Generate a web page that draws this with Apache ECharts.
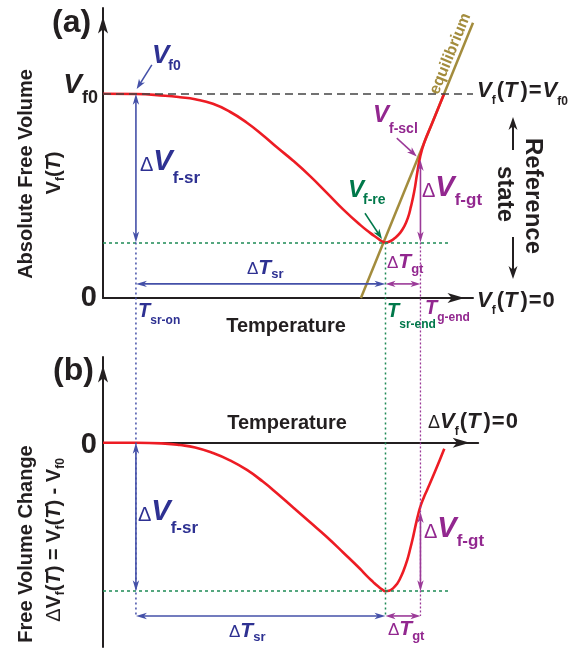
<!DOCTYPE html>
<html><head><meta charset="utf-8">
<script src="https://cdn.jsdelivr.net/npm/echarts@6/dist/echarts.min.js"></script>
<style>html,body{margin:0;padding:0;background:#fff}#c{width:569px;height:649px}</style>
</head><body><div id="c"></div>
<script>
// ================= DATA =================
// characteristic temperatures (arbitrary temperature units)
const T_SR_ON = 8.9;
const T_SR_END = 76.35;
const T_G_END = 85.8;
// characteristic free volumes (relative to V_f0 = 1)
const V_F0 = 1.0;
const V_F_RE = 0.272;
const V_F_SCL = 0.676;
const DV_F_RE = -0.727;
const DV_F_SCL = -0.339;

// (a) absolute free volume curve
const tempA = [0, 8.9, 16.8, 20.8, 24.9, 29.7, 34.3, 38.9, 43.2, 47.0, 51.4, 55.9, 60.5, 64.9, 69.5, 72.2, 74.1, 75.1, 76.35, 77.6, 78.9, 80.3, 81.4, 82.4, 83.2, 84.1, 84.9, 85.7, 86.8, 88.9, 92.2];
const volA  = [1.000, 0.999, 0.990, 0.983, 0.973, 0.951, 0.912, 0.858, 0.797, 0.738, 0.672, 0.598, 0.515, 0.434, 0.358, 0.319, 0.294, 0.281, 0.272, 0.278, 0.294, 0.319, 0.350, 0.392, 0.446, 0.520, 0.610, 0.690, 0.760, 0.853, 1.000];

// equilibrium line
const equilTemp = [69.7, 100];
const equilVol  = [0, 1.348];

// (b) free volume change curve
const tempB = [0, 8.9, 16.8, 20.8, 24.9, 29.7, 34.3, 38.9, 43.2, 47.0, 51.4, 55.9, 60.5, 64.9, 69.46, 71.35, 72.97, 74.32, 75.41, 76.35, 77.3, 78.38, 79.46, 80.27, 81.22, 82.16, 82.97, 83.86, 84.59, 85.27, 85.95, 86.76, 87.57, 89.73, 92.24];
const dvolB = [0, 0, -0.004, -0.011, -0.023, -0.050, -0.086, -0.133, -0.190, -0.247, -0.317, -0.388, -0.461, -0.537, -0.617, -0.653, -0.681, -0.703, -0.718, -0.727, -0.725, -0.713, -0.691, -0.666, -0.627, -0.578, -0.524, -0.457, -0.396, -0.345, -0.303, -0.265, -0.232, -0.141, -0.029];

// ================= LAYOUT / STYLE =================
const ARROW_DT_A = 0.069;   // level of the ΔT arrows in (a)
const ARROW_DT_B = -0.848;  // level of the ΔT arrows in (b)
const GREEN_END = 93.8;     // right end of green dotted guide lines
const PTR_F0  = [[13.2, 1.142], [9.1, 1.023]];
const PTR_RE  = [[70.8, 0.415], [75.4, 0.289]];
const PTR_SCL = [[79.4, 0.783], [84.8, 0.693]];

const BLACK='#231f20', BLUE='#2e3192', BLUE_L='#4450a8', PURPLE='#92278f', PURPLE_L='#9b3a98',
      GREEN='#00784a', GREEN_L='#1e8a55', RED='#ed1c24', OLIVE='#a38c3d';
const FONT = '"Liberation Sans", Arial, Helvetica, sans-serif';

const chart = echarts.init(document.getElementById('c'));

function xAx(gi, max){ return {gridIndex:gi, type:'value', min:0, max:max,
  axisLine:{onZero:true, symbol:['none','arrow'], symbolSize:[7.5,17], symbolOffset:[0,-8.5], lineStyle:{color:BLACK,width:2}},
  axisTick:{show:false}, axisLabel:{show:false}, splitLine:{show:false}}; }
function yAx(gi, min, max){ return {gridIndex:gi, type:'value', min:min, max:max,
  axisLine:{onZero:true, symbol:['none','arrow'], symbolSize:[7.5,17], symbolOffset:[0,-8.5], lineStyle:{color:BLACK,width:2}},
  axisTick:{show:false}, axisLabel:{show:false}, splitLine:{show:false}}; }

function hline(x1, x2, y, color, dash, w){
  return [{coord:[x1,y], symbol:'none', lineStyle:{color:color, type:dash, width:w}}, {coord:[x2,y], symbol:'none'}];
}

chart.setOption({
  animation:false,
  grid:[
    {left:103, top:8, width:370, height:290},
    {left:103, top:357, width:375.18, height:290}
  ],
  xAxis:[xAx(0,100), xAx(1,101.4)],
  yAxis:[yAx(0,0,1.42), yAx(1,-1.0,0.42)],
  series:[
    {type:'line', xAxisIndex:0, yAxisIndex:0, data:[], silent:true,
     markLine:{silent:true, symbol:'none', label:{show:false}, emphasis:{disabled:true}, animation:false,
       data:[ hline(0,100,V_F0,'#444',[8,5],1.5), hline(0,GREEN_END,V_F_RE,GREEN_L,[3,3],1.5) ]}},
    {type:'line', xAxisIndex:1, yAxisIndex:1, data:[], silent:true,
     markLine:{silent:true, symbol:'none', label:{show:false}, emphasis:{disabled:true}, animation:false,
       data:[ hline(0,GREEN_END,DV_F_RE,GREEN_L,[3,3],1.5) ]}},
    {type:'line', xAxisIndex:0, yAxisIndex:0, data:equilTemp.map((t,i)=>[t,equilVol[i]]),
     symbol:'none', lineStyle:{color:OLIVE,width:2.5}, silent:true, z:3},
    {type:'line', xAxisIndex:0, yAxisIndex:0, data:tempA.map((t,i)=>[t,volA[i]]),
     symbol:'none', smooth:0.5, lineStyle:{color:RED,width:2.6}, silent:true, z:4},
    {type:'line', xAxisIndex:1, yAxisIndex:1, data:tempB.map((t,i)=>[t,dvolB[i]]),
     symbol:'none', smooth:0.5, lineStyle:{color:RED,width:2.6}, silent:true, z:4}
  ]
});

const pa = (t,v) => chart.convertToPixel({gridIndex:0},[t,v]);
const pb = (t,v) => chart.convertToPixel({gridIndex:1},[t,v]);

const els = [];
function seg(p1,p2,color,w,dash){ els.push({type:'line', silent:true, z:5, shape:{x1:p1[0],y1:p1[1],x2:p2[0],y2:p2[1]}, style:{stroke:color,lineWidth:w,lineDash:dash||null}}); }
function head(tip, ux, uy, L, W, color){
  const nx=-uy, ny=ux;
  const bx=tip[0]-ux*L, by=tip[1]-uy*L;
  const mx=tip[0]-ux*L*0.72, my=tip[1]-uy*L*0.72;
  els.push({type:'polygon', silent:true, z:6, shape:{points:[[tip[0],tip[1]],[bx+nx*W,by+ny*W],[mx,my],[bx-nx*W,by-ny*W]]}, style:{fill:color}});
}
function arrow(p1,p2,color,w,both,L,W){
  const dx=p2[0]-p1[0], dy=p2[1]-p1[1], len=Math.hypot(dx,dy), ux=dx/len, uy=dy/len;
  const a = both ? [p1[0]+ux*L*0.6, p1[1]+uy*L*0.6] : p1;
  const b = [p2[0]-ux*L*0.6, p2[1]-uy*L*0.6];
  seg(a,b,color,w);
  head(p2,ux,uy,L,W,color);
  if (both) head(p1,-ux,-uy,L,W,color);
}

// cross-panel dotted guides
seg(pa(T_SR_ON,V_F_RE), pb(T_SR_ON,ARROW_DT_B), BLUE_L, 1.5, [2,3]);
seg(pa(T_SR_END,V_F_RE), pb(T_SR_END,ARROW_DT_B), GREEN_L, 1.5, [2,3]);
seg(pa(T_G_END,V_F_RE), pb(T_G_END,ARROW_DT_B), PURPLE_L, 1.3, [2,2]);

// dimension arrows (a)
arrow(pa(T_SR_ON,V_F0), pa(T_SR_ON,V_F_RE), BLUE_L, 1.6, true, 11, 3.2);
arrow(pa(T_SR_ON,ARROW_DT_A), pa(T_SR_END,ARROW_DT_A), BLUE_L, 1.6, true, 11, 3.2);
arrow(pa(T_SR_END,ARROW_DT_A), pa(T_G_END,ARROW_DT_A), PURPLE_L, 1.6, true, 10, 3.2);
arrow(pa(T_G_END,V_F_SCL), pa(T_G_END,V_F_RE), PURPLE_L, 1.6, true, 11, 3.2);
// dimension arrows (b)
arrow(pb(T_SR_ON,0), pb(T_SR_ON,DV_F_RE), BLUE_L, 1.6, true, 11, 3.2);
arrow(pb(T_SR_ON,ARROW_DT_B), pb(T_SR_END,ARROW_DT_B), BLUE_L, 1.6, true, 11, 3.2);
arrow(pb(T_SR_END,ARROW_DT_B), pb(T_G_END,ARROW_DT_B), PURPLE_L, 1.6, true, 10, 3.2);
arrow(pb(T_G_END,DV_F_SCL), pb(T_G_END,DV_F_RE), PURPLE_L, 1.6, true, 11, 3.2);
// pointers
arrow(pa(...PTR_F0[0]), pa(...PTR_F0[1]), BLUE_L, 1.5, false, 10, 3.5);
arrow(pa(...PTR_RE[0]), pa(...PTR_RE[1]), GREEN, 1.5, false, 10, 3.5);
arrow(pa(...PTR_SCL[0]), pa(...PTR_SCL[1]), PURPLE_L, 1.5, false, 10, 3.5);
// reference-state arrows
arrow([513,150],[513,117], BLACK, 2, false, 13, 4.5);
arrow([513,237],[513,279], BLACK, 2, false, 13, 4.5);

// ---- text helper ----
const mc = document.createElement('canvas').getContext('2d');
function fstr(p){ return (p.i?'italic ':'') + (p.w||'bold') + ' ' + p.s + 'px ' + FONT; }
function txt(x, y, parts, align, rot, color){
  let cx=0; const items=[];
  parts.forEach(p=>{ const f=fstr(p); mc.font=f; cx+=(p.dx||0); items.push({x:cx,p:p,f:f}); cx+=mc.measureText(p.t).width; });
  const off = align==='center' ? -cx/2 : align==='right' ? -cx : 0;
  els.push({type:'group', x:x, y:y, rotation:rot||0, silent:true, z:10,
    children: items.map(it=>({type:'text', x:it.x+off, y:(it.p.dy||0)-0.33*it.p.s,
      style:{text:it.p.t, font:it.f, fill:it.p.c||color, align:'left', verticalAlign:'middle', textAlign:'left', textVerticalAlign:'middle'}}))});
}

// panel letters
txt(52, 34, [{t:'(a)', s:32}], 'left', 0, BLACK);
txt(53, 382, [{t:'(b)', s:32}], 'left', 0, BLACK);
// axis names
txt(33, 174, [{t:'Absolute Free Volume', s:20}], 'center', Math.PI/2, BLACK);
txt(61, 173, [{t:'V',s:20},{t:'f',s:12,dy:4},{t:'(',s:20},{t:'T',s:20,i:1},{t:')',s:20}], 'center', Math.PI/2, BLACK);
txt(33, 544, [{t:'Free Volume Change', s:20}], 'center', Math.PI/2, BLACK);
txt(61, 540, [{t:'Δ',s:20,w:'normal'},{t:'V',s:20},{t:'f',s:12,dy:4},{t:'(',s:20},{t:'T',s:20,i:1},{t:') = ',s:20},
  {t:'V',s:20},{t:'f',s:12,dy:4},{t:'(',s:20},{t:'T',s:20,i:1},{t:') - ',s:20},{t:'V',s:20},{t:'f0',s:12,dy:4}], 'center', Math.PI/2, BLACK);
// tick-like labels
txt(98, 95, [{t:'V',s:28,i:1},{t:'f0',s:18,dy:9}], 'right', 0, BLACK);
txt(97, 308, [{t:'0',s:29}], 'right', 0, BLACK);
txt(97, 455, [{t:'0',s:29}], 'right', 0, BLACK);
txt(286, 333, [{t:'Temperature',s:20}], 'center', 0, BLACK);
txt(287, 430, [{t:'Temperature',s:20}], 'center', 0, BLACK);
// right side labels
const eqParts = last => [{t:'V',s:22,i:1},{t:'f',s:12,dy:7},{t:'(',s:22,dx:1},{t:'T',s:22,i:1},{t:')',s:22,dx:3},{t:'=',s:22,dx:1}].concat(last);
txt(477, 98, eqParts([{t:'V',s:22,i:1,dx:1},{t:'f0',s:12,dy:8}]), 'left', 0, BLACK);
txt(477, 308, eqParts([{t:'0',s:22,dx:1}]), 'left', 0, BLACK);
txt(428, 429, [{t:'Δ',s:18,w:'normal'}].concat(eqParts([{t:'0',s:22,dx:1}])), 'left', 0, BLACK);
txt(525, 196, [{t:'Reference',s:24}], 'center', -Math.PI/2, BLACK);
txt(497, 194, [{t:'state',s:24}], 'center', -Math.PI/2, BLACK);
// blue annotations
txt(152, 64, [{t:'V',s:26,i:1},{t:'f0',s:14,dy:7,dx:-1}], 'left', 0, BLUE);
txt(140, 172, [{t:'Δ',s:20,w:'normal'},{t:'V',s:29,i:1},{t:'f-sr',s:17,dy:12}], 'left', 0, BLUE);
txt(138, 522, [{t:'Δ',s:20,w:'normal'},{t:'V',s:29,i:1},{t:'f-sr',s:17,dy:12}], 'left', 0, BLUE);
txt(247, 275, [{t:'Δ',s:17,w:'normal'},{t:'T',s:21,i:1},{t:'sr',s:13,dy:4}], 'left', 0, BLUE);
txt(229, 638, [{t:'Δ',s:17,w:'normal'},{t:'T',s:21,i:1},{t:'sr',s:13,dy:4}], 'left', 0, BLUE);
txt(138, 318, [{t:'T',s:20,i:1},{t:'sr-on',s:12,dy:7}], 'left', 0, BLUE);
// green annotations
txt(348, 198, [{t:'V',s:24,i:1},{t:'f-re',s:14,dy:7,dx:-1}], 'left', 0, GREEN);
txt(387, 318, [{t:'T',s:20,i:1},{t:'sr-end',s:12,dy:11}], 'left', 0, GREEN);
// purple annotations
txt(373, 123, [{t:'V',s:24,i:1},{t:'f-scl',s:14,dy:11}], 'left', 0, PURPLE);
txt(422, 198, [{t:'Δ',s:20,w:'normal'},{t:'V',s:29,i:1},{t:'f-gt',s:17,dy:8}], 'left', 0, PURPLE);
txt(424, 539, [{t:'Δ',s:20,w:'normal'},{t:'V',s:29,i:1},{t:'f-gt',s:17,dy:8}], 'left', 0, PURPLE);
txt(387, 269, [{t:'Δ',s:17,w:'normal'},{t:'T',s:21,i:1},{t:'gt',s:13,dy:5}], 'left', 0, PURPLE);
txt(388, 636, [{t:'Δ',s:17,w:'normal'},{t:'T',s:21,i:1},{t:'gt',s:13,dy:5}], 'left', 0, PURPLE);
txt(425, 315, [{t:'T',s:20,i:1},{t:'g-end',s:12,dy:7}], 'left', 0, PURPLE);

// "equilibrium" along the equilibrium line
(function(){
  const e0 = pa(equilTemp[0], equilVol[0]), e1 = pa(equilTemp[1], equilVol[1]);
  const ang = Math.atan2(e0[1]-e1[1], e1[0]-e0[0]);
  const tAt = 96.2, vAt = equilVol[0] + (equilVol[1]-equilVol[0])*(tAt-equilTemp[0])/(equilTemp[1]-equilTemp[0]);
  const p = pa(tAt, vAt);
  const nx = -Math.sin(ang), ny = -Math.cos(ang);
  txt(p[0]+nx*4, p[1]+ny*4, [{t:'equilibrium', s:16, w:'bold'}], 'center', ang, OLIVE);
})();

chart.setOption({graphic:{elements:els}});
</script></body></html>
